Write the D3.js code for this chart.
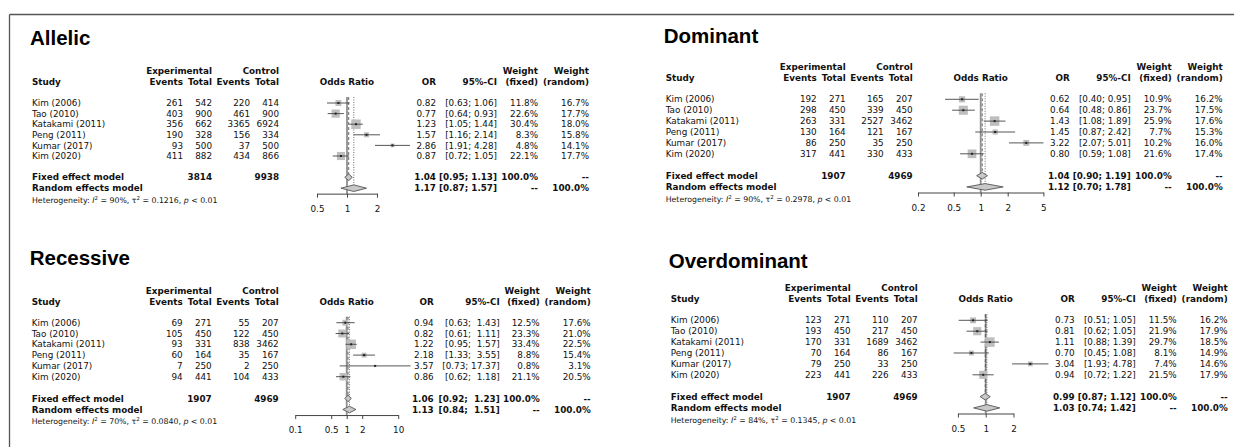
<!DOCTYPE html>
<html><head><meta charset="utf-8">
<script src="https://cdn.jsdelivr.net/npm/d3@7"></script>
<style>
html,body{margin:0;padding:0;background:#fff;}
svg text{font-family:"DejaVu Sans",sans-serif;fill:#111;white-space:pre;}
</style></head>
<body><svg id="c" width="1234" height="447"></svg>
<script>
// ---------- data ----------
const studies = ["Kim (2006)", "Tao (2010)", "Katakami (2011)", "Peng (2011)", "Kumar (2017)", "Kim (2020)"];
const modelNames = ["Allelic", "Dominant", "Recessive", "Overdominant"];

const allelicExpEvents = [261, 403, 356, 190, 93, 411];
const allelicExpTotal  = [542, 900, 662, 328, 500, 882];
const allelicCtrlEvents = [220, 461, 3365, 156, 37, 434];
const allelicCtrlTotal  = [414, 900, 6924, 334, 500, 866];
const allelicOR    = [0.82, 0.77, 1.23, 1.57, 2.86, 0.87];
const allelicLower = [0.63, 0.64, 1.05, 1.16, 1.91, 0.72];
const allelicUpper = [1.06, 0.93, 1.44, 2.14, 4.28, 1.05];
const allelicWFixed  = [11.8, 22.6, 30.4, 8.3, 4.8, 22.1];
const allelicWRandom = [16.7, 17.7, 18.0, 15.8, 14.1, 17.7];
const allelicFixed  = [1.04, 0.95, 1.13];
const allelicRandom = [1.17, 0.87, 1.57];
const allelicTicks = [0.5, 1, 2];

const dominantExpEvents = [192, 298, 263, 130, 86, 317];
const dominantExpTotal  = [271, 450, 331, 164, 250, 441];
const dominantCtrlEvents = [165, 339, 2527, 121, 35, 330];
const dominantCtrlTotal  = [207, 450, 3462, 167, 250, 433];
const dominantOR    = [0.62, 0.64, 1.43, 1.45, 3.22, 0.80];
const dominantLower = [0.40, 0.48, 1.08, 0.87, 2.07, 0.59];
const dominantUpper = [0.95, 0.86, 1.89, 2.42, 5.01, 1.08];
const dominantWFixed  = [10.9, 23.7, 25.9, 7.7, 10.2, 21.6];
const dominantWRandom = [16.2, 17.5, 17.6, 15.3, 16.0, 17.4];
const dominantFixed  = [1.04, 0.90, 1.19];
const dominantRandom = [1.12, 0.70, 1.78];
const dominantTicks = [0.2, 0.5, 1, 2, 5];

const recessiveExpEvents = [69, 105, 93, 60, 7, 94];
const recessiveExpTotal  = [271, 450, 331, 164, 250, 441];
const recessiveCtrlEvents = [55, 122, 838, 35, 2, 104];
const recessiveCtrlTotal  = [207, 450, 3462, 167, 250, 433];
const recessiveOR    = [0.94, 0.82, 1.22, 2.18, 3.57, 0.86];
const recessiveLower = [0.63, 0.61, 0.95, 1.33, 0.73, 0.62];
const recessiveUpper = [1.43, 1.11, 1.57, 3.55, 17.37, 1.18];
const recessiveWFixed  = [12.5, 23.3, 33.4, 8.8, 0.8, 21.1];
const recessiveWRandom = [17.6, 21.0, 22.5, 15.4, 3.1, 20.5];
const recessiveFixed  = [1.06, 0.92, 1.23];
const recessiveRandom = [1.13, 0.84, 1.51];
const recessiveTicks = [0.1, 0.5, 1, 2, 10];

const overdominantExpEvents = [123, 193, 170, 70, 79, 223];
const overdominantExpTotal  = [271, 450, 331, 164, 250, 441];
const overdominantCtrlEvents = [110, 217, 1689, 86, 33, 226];
const overdominantCtrlTotal  = [207, 450, 3462, 167, 250, 433];
const overdominantOR    = [0.73, 0.81, 1.11, 0.70, 3.04, 0.94];
const overdominantLower = [0.51, 0.62, 0.88, 0.45, 1.93, 0.72];
const overdominantUpper = [1.05, 1.05, 1.39, 1.08, 4.78, 1.22];
const overdominantWFixed  = [11.5, 21.9, 29.7, 8.1, 7.4, 21.5];
const overdominantWRandom = [16.2, 17.9, 18.5, 14.9, 14.6, 17.9];
const overdominantFixed  = [0.99, 0.87, 1.12];
const overdominantRandom = [1.03, 0.74, 1.42];
const overdominantTicks = [0.5, 1, 2];

const hetI2   = [90, 90, 70, 84];
const hetTau2 = ["0.1216", "0.2978", "0.0840", "0.1345"];
const hetP    = ["< 0.01", "< 0.01", "< 0.01", "< 0.01"];

// ---------- layout (positions only) ----------
const layouts = [
  {ox: 32,    oy: 103,   titleY: 45,    rowH: 10.6, k: 30,   dOr: 0,  dCi: 0, dW: 0},
  {ox: 665.7, oy: 99.3,  titleY: 42.7,  rowH: 10.9, k: 27,   dOr: 0,  dCi: 0, dW: 0},
  {ox: 31.7,  oy: 322.7, titleY: 265,   rowH: 10.8, k: 15.5, dOr: -2, dCi: 3, dW: 2},
  {ox: 670.7, oy: 320.3, titleY: 267.7, rowH: 10.9, k: 27.8, dOr: 0,  dCi: 0, dW: 0}
];
const col = {expEv: 151, expTot: 180, ctrlEv: 218, ctrlTot: 247, x1: 315,
             or: 404, ci: 465, wF: 506, wR: 557,
             hd1: -32, hd2: -21, fixed: 75, random: 86, het: 98, axis: 91.5};

const panels = [
  {name: modelNames[0], ee: allelicExpEvents, et: allelicExpTotal, ce: allelicCtrlEvents, ct: allelicCtrlTotal,
   or: allelicOR, lo: allelicLower, hi: allelicUpper, wf: allelicWFixed, wr: allelicWRandom,
   fixed: allelicFixed, random: allelicRandom, ticks: allelicTicks},
  {name: modelNames[1], ee: dominantExpEvents, et: dominantExpTotal, ce: dominantCtrlEvents, ct: dominantCtrlTotal,
   or: dominantOR, lo: dominantLower, hi: dominantUpper, wf: dominantWFixed, wr: dominantWRandom,
   fixed: dominantFixed, random: dominantRandom, ticks: dominantTicks},
  {name: modelNames[2], ee: recessiveExpEvents, et: recessiveExpTotal, ce: recessiveCtrlEvents, ct: recessiveCtrlTotal,
   or: recessiveOR, lo: recessiveLower, hi: recessiveUpper, wf: recessiveWFixed, wr: recessiveWRandom,
   fixed: recessiveFixed, random: recessiveRandom, ticks: recessiveTicks},
  {name: modelNames[3], ee: overdominantExpEvents, et: overdominantExpTotal, ce: overdominantCtrlEvents, ct: overdominantCtrlTotal,
   or: overdominantOR, lo: overdominantLower, hi: overdominantUpper, wf: overdominantWFixed, wr: overdominantWRandom,
   fixed: overdominantFixed, random: overdominantRandom, ticks: overdominantTicks}
];

const svg = d3.select("#c");
// frame lines
svg.append("line").attr("x1", 9.5).attr("x2", 1234).attr("y1", 14.5).attr("y2", 14.5)
  .attr("stroke", "#555").attr("stroke-width", 1.3);
svg.append("line").attr("x1", 9.5).attr("x2", 9.5).attr("y1", 14.5).attr("y2", 447)
  .attr("stroke", "#555").attr("stroke-width", 1.3);

const FS = 8.8;
function txt(g, x, y, s, anchor, bold, size) {
  return g.append("text").attr("x", x).attr("y", y).attr("dy", "0.36em")
    .attr("text-anchor", anchor || "start")
    .attr("font-weight", bold ? "bold" : "normal")
    .attr("font-size", size || FS).text(s);
}

panels.forEach((p, i) => {
  const L = layouts[i];
  const cOr = col.or + L.dOr, cCi = col.ci + L.dCi, cWF = col.wF + L.dW, cWR = col.wR + L.dW;
  const g = svg.append("g").attr("transform", `translate(${L.ox},${L.oy})`);
  const rowY = j => j * L.rowH;
  const yFixed = col.fixed * L.rowH / 10.7, yRandom = col.random * L.rowH / 10.7;
  const yHet = col.het * L.rowH / 10.7, yAxis = col.axis * L.rowH / 10.7;

  // title
  g.append("text").attr("x", -2).attr("y", L.titleY - L.oy)
    .style("font-family", "'Liberation Sans', Arial, sans-serif")
    .attr("font-weight", "bold").attr("font-size", 20.5).style("fill", "#000").text(p.name);

  // headers
  txt(g, col.expTot, col.hd1, "Experimental", "end", true);
  txt(g, col.ctrlTot, col.hd1, "Control", "end", true);
  txt(g, cWF, col.hd1, "Weight", "end", true);
  txt(g, cWR, col.hd1, "Weight", "end", true);
  txt(g, 0, col.hd2, "Study", "start", true);
  txt(g, col.expEv, col.hd2, "Events", "end", true);
  txt(g, col.expTot, col.hd2, "Total", "end", true);
  txt(g, col.ctrlEv, col.hd2, "Events", "end", true);
  txt(g, col.ctrlTot, col.hd2, "Total", "end", true);
  txt(g, col.x1, col.hd2, "Odds Ratio", "middle", true);
  txt(g, cOr, col.hd2, "OR", "end", true);
  txt(g, cCi, col.hd2, "95%-CI", "end", true);
  txt(g, cWF, col.hd2, "(fixed)", "end", true);
  txt(g, cWR, col.hd2, "(random)", "end", true);

  // CI formatting with padding
  const his = p.hi.concat([p.fixed[2], p.random[2]]).map(v => v.toFixed(2));
  const los = p.lo.concat([p.fixed[1], p.random[1]]).map(v => v.toFixed(2));
  const hw = d3.max(his, s => s.length), lw = d3.max(los, s => s.length);
  const ciStr = (l, h) => "[" + l.toFixed(2).padStart(lw) + "; " + h.toFixed(2).padStart(hw) + "]";

  // study rows
  p.or.forEach((v, j) => {
    const y = rowY(j);
    txt(g, 0, y, studies[j]);
    txt(g, col.expEv, y, String(p.ee[j]), "end");
    txt(g, col.expTot, y, String(p.et[j]), "end");
    txt(g, col.ctrlEv, y, String(p.ce[j]), "end");
    txt(g, col.ctrlTot, y, String(p.ct[j]), "end");
    txt(g, cOr, y, v.toFixed(2), "end");
    txt(g, cCi, y, ciStr(p.lo[j], p.hi[j]), "end");
    txt(g, cWF, y, p.wf[j].toFixed(1) + "%", "end");
    txt(g, cWR, y, p.wr[j].toFixed(1) + "%", "end");
  });

  // summary rows
  txt(g, 0, yFixed, "Fixed effect model", "start", true);
  txt(g, col.expTot, yFixed, String(d3.sum(p.et)), "end", true);
  txt(g, col.ctrlTot, yFixed, String(d3.sum(p.ct)), "end", true);
  txt(g, cOr, yFixed, p.fixed[0].toFixed(2), "end", true);
  txt(g, cCi, yFixed, ciStr(p.fixed[1], p.fixed[2]), "end", true);
  txt(g, cWF, yFixed, "100.0%", "end", true);
  txt(g, cWR, yFixed, "--", "end", true);
  txt(g, 0, yRandom, "Random effects model", "start", true);
  txt(g, cOr, yRandom, p.random[0].toFixed(2), "end", true);
  txt(g, cCi, yRandom, ciStr(p.random[1], p.random[2]), "end", true);
  txt(g, cWF, yRandom, "--", "end", true);
  txt(g, cWR, yRandom, "100.0%", "end", true);

  // heterogeneity
  const ht = g.append("text").attr("x", 0).attr("y", yHet).attr("dy", "0.36em").attr("font-size", 7.8);
  ht.append("tspan").text("Heterogeneity: ");
  ht.append("tspan").attr("font-style", "italic").text("I");
  ht.append("tspan").attr("font-size", 5.5).attr("baseline-shift", "super").text("2");
  ht.append("tspan").text(` = ${hetI2[i]}%, τ`);
  ht.append("tspan").attr("font-size", 5.5).attr("baseline-shift", "super").text("2");
  ht.append("tspan").text(` = ${hetTau2[i]}, `);
  ht.append("tspan").attr("font-style", "italic").text("p");
  ht.append("tspan").text(" " + hetP[i]);

  // scales
  const t0 = p.ticks[0], t1 = p.ticks[p.ticks.length - 1];
  const x = d3.scaleLog().domain([1, 2]).range([col.x1, col.x1 + L.k]);
  const xa = d3.scaleLog().domain([t0, t1]).range([x(t0), x(t1)]);

  const top = -6;
  // reference line at 1
  g.append("line").attr("x1", x(1)).attr("x2", x(1)).attr("y1", top).attr("y2", yAxis)
    .attr("stroke", "#8f8f8f").attr("stroke-width", 1.8);
  // fixed (dashed) and random (dotted) lines
  g.append("line").attr("x1", x(p.fixed[0])).attr("x2", x(p.fixed[0])).attr("y1", top).attr("y2", yFixed - 3)
    .attr("stroke", "#444").attr("stroke-width", 0.8).attr("stroke-dasharray", "3,2");
  g.append("line").attr("x1", x(p.random[0])).attr("x2", x(p.random[0])).attr("y1", top).attr("y2", yRandom - 3)
    .attr("stroke", "#444").attr("stroke-width", 0.8).attr("stroke-dasharray", "1,1.5");

  // squares, CI lines, points
  const maxW = d3.max(p.wf);
  p.or.forEach((v, j) => {
    const y = rowY(j);
    const s = 9.5 * Math.sqrt(p.wf[j] / maxW);
    g.append("rect").attr("x", x(v) - s / 2).attr("y", y - s / 2).attr("width", s).attr("height", s)
      .attr("fill", "#bebebe");
    g.append("line").attr("x1", x(p.lo[j])).attr("x2", x(p.hi[j])).attr("y1", y).attr("y2", y)
      .attr("stroke", "#444").attr("stroke-width", 0.9);
    g.append("rect").attr("x", x(v) - 1).attr("y", y - 1).attr("width", 2).attr("height", 2).attr("fill", "#222");
  });

  // diamonds
  const diamond = (vals, y) => {
    const h = 3.3;
    g.append("path")
      .attr("d", `M${x(vals[1])},${y}L${x(vals[0])},${y - h}L${x(vals[2])},${y}L${x(vals[0])},${y + h}Z`)
      .attr("fill", "#c8c8c8").attr("stroke", "#555").attr("stroke-width", 0.9);
  };
  diamond(p.fixed, yFixed);
  diamond(p.random, yRandom);

  // axis
  const ax = g.append("g").attr("transform", `translate(0,${yAxis})`)
    .call(d3.axisBottom(xa).tickValues(p.ticks).tickFormat(d => String(d)).tickSize(4).tickSizeOuter(0).tickPadding(8));
  ax.select(".domain").attr("stroke", "#444");
  ax.selectAll(".tick line").attr("stroke", "#444");
  ax.selectAll(".tick text").attr("font-size", 8.8).attr("font-family", "DejaVu Sans").style("fill", "#111");
});
</script></body></html>
